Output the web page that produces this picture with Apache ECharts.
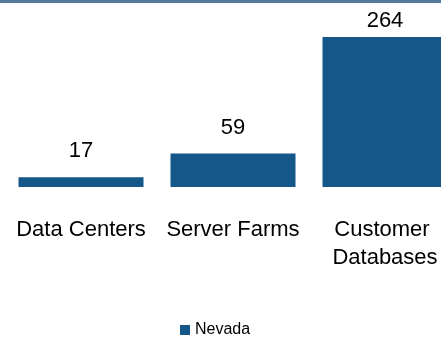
<!DOCTYPE html>
<html>
<head>
<meta charset="utf-8">
<script src="https://cdn.jsdelivr.net/npm/echarts@6/dist/echarts.min.js"></script>
<style>
  html, body { margin: 0; padding: 0; background: #fff; }
  #chart { width: 441px; height: 338px; }
</style>
</head>
<body>
<div id="chart"></div>
<script>
// Chart data
const categories = ['Data Centers', 'Server Farms', 'Customer Databases'];
const seriesName = 'Nevada';
const nevadaValues = [17, 59, 264];

const BAR_COLOR = '#155789';
const FONT = '"Liberation Sans", Arial, sans-serif';

const chart = echarts.init(document.getElementById('chart'), null, { renderer: 'canvas' });

// The tallest bar's label sits closer to its bar so it stays inside the plot area
const maxValue = Math.max(...nevadaValues);
const barData = nevadaValues.map(v => (
  v === maxValue ? { value: v, label: { distance: 5 } } : v
));

chart.setOption({
  animation: false,
  backgroundColor: '#ffffff',
  graphic: [{
    type: 'rect',
    left: 0,
    top: 0,
    shape: { width: 441, height: 3 },
    style: { fill: '#55799a' },
    silent: true
  }],
  // plot area runs past the right edge, so the last bar is cut off
  grid: {
    left: 5,
    width: 456,
    top: 37,
    bottom: 151,
    outerBoundsMode: 'none'
  },
  legend: {
    data: [seriesName],
    left: 175,
    top: 317,
    itemWidth: 10,
    itemHeight: 10,
    icon: 'rect',
    itemGap: 10,
    textStyle: { fontFamily: FONT, fontSize: 16, color: '#000' }
  },
  xAxis: {
    type: 'category',
    data: categories,
    axisLine: { show: false },
    axisTick: { show: false },
    axisLabel: {
      interval: 0,
      margin: 29,
      width: 140,
      overflow: 'break',
      fontFamily: FONT,
      fontSize: 22,
      lineHeight: 28,
      color: '#000'
    }
  },
  yAxis: {
    type: 'value',
    min: 0,
    max: 'dataMax',
    show: false,
    splitLine: { show: false }
  },
  series: [{
    name: seriesName,
    type: 'bar',
    data: barData,
    barWidth: 125,
    itemStyle: { color: BAR_COLOR },
    label: {
      show: true,
      position: 'top',
      distance: 15,
      fontFamily: FONT,
      fontSize: 22,
      color: '#000'
    }
  }]
});
</script>
</body>
</html>
